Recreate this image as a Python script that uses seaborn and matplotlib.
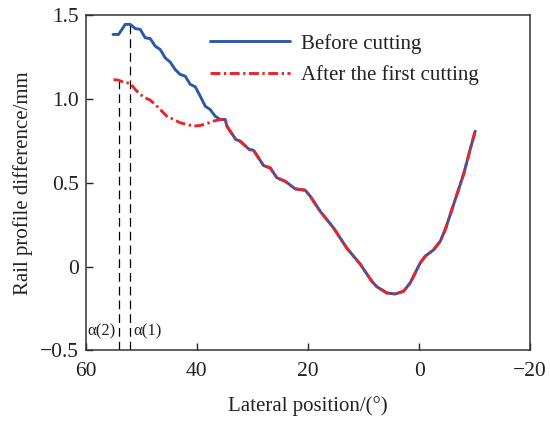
import matplotlib
matplotlib.use('Agg')
import matplotlib.pyplot as plt
import numpy as np
import pandas as pd
import seaborn as sns

# lateral position (deg) and rail profile difference (mm)
before_head_x = [55.1, 54.1, 52.9, 52.0, 51.1, 50.2, 49.3, 48.4, 47.5, 46.6, 45.7,
                 44.8, 43.9, 43.0, 42.1, 41.2, 40.3, 39.4, 38.5, 37.6, 36.7]
before_head_y = [1.385, 1.385, 1.445, 1.445, 1.42, 1.415, 1.365, 1.36, 1.315, 1.295, 1.245,
                 1.22, 1.175, 1.146, 1.136, 1.087, 1.073, 1.017, 0.957, 0.937, 0.897]

after_head_x = [55.0, 54.1, 53.2, 52.0, 51.1, 50.2, 49.3, 48.4, 47.5, 46.6, 45.4,
                44.2, 43.0, 41.8, 40.6, 39.4, 38.2, 37.0]
after_head_y = [1.116, 1.112, 1.10, 1.093, 1.057, 1.027, 1.007, 0.993, 0.967, 0.937, 0.897,
                0.878, 0.858, 0.848, 0.838, 0.842, 0.854, 0.868]

# both profiles coincide from here on
shared_x = [35.8, 34.9, 34.6, 33.0, 32.2, 30.6, 29.8, 28.0, 26.8, 25.6, 24.1, 22.3,
            20.5, 19.6, 17.8, 15.4, 13.0, 10.6, 8.5, 7.6, 5.8, 4.3, 2.8, 1.6, -0.2,
            -1.1, -2.6, -3.8, -4.7, -5.9, -7.1, -8.0, -9.2, -10.1]
shared_y = [0.878, 0.878, 0.838, 0.758, 0.748, 0.70, 0.694, 0.603, 0.589, 0.53, 0.509, 0.464,
            0.456, 0.42, 0.33, 0.231, 0.11, 0.015, -0.088, -0.12, -0.157, -0.163, -0.147, -0.097, 0.022,
            0.062, 0.10, 0.151, 0.22, 0.34, 0.46, 0.55, 0.70, 0.808]

# cutting positions alpha(2), alpha(1) and the curve value they reach
alpha_x = [54.0, 52.1]
alpha_top = [1.11, 1.445]
alpha_labels = ['α(2)', 'α(1)']

x_ticks = [60, 40, 20, 0, -20]
y_ticks = [1.5, 1.0, 0.5, 0, -0.5]
y_tick_labels = ['1.5', '1.0', '0.5', '0', '\u22120.5']
x_tick_labels = ['60', '40', '20', '0', '\u221220']

df_before = pd.DataFrame({'x': before_head_x + shared_x, 'y': before_head_y + shared_y})
df_after = pd.DataFrame({'x': after_head_x + shared_x, 'y': after_head_y + shared_y})

sns.set_style('ticks')
plt.rcParams['font.family'] = ['Liberation Serif', 'DejaVu Serif']

fig = plt.figure(figsize=(5.5, 4.21), dpi=100)
ax = fig.add_axes([0.156, 0.1675, 0.808, 0.7965])

# vertical dashed markers
ax.vlines(alpha_x, -0.5, alpha_top, colors='k', linestyles=(0, (7, 4)), linewidth=0.9)
for xa, lab in zip(alpha_x, alpha_labels):
    off = 0.6 if lab == 'α(2)' else -0.6
    ha = 'right' if lab == 'α(2)' else 'left'
    ax.text(xa + off, -0.385, lab, ha=ha, va='center', fontsize=12, color='#222222')

sns.lineplot(data=df_before, x='x', y='y', sort=False, estimator=None, ax=ax,
             color='#2a5aa8', linewidth=2.1, label='Before cutting')
sns.lineplot(data=df_after, x='x', y='y', sort=False, estimator=None, ax=ax,
             color='#e8252b', linewidth=2.1, label='After the first cutting',
             dashes=False)
ax.lines[-1].set_dashes((3.4, 1.2, 0.8, 1.2))

ax.set_xlim(60, -20)
ax.set_ylim(-0.5, 1.5)
ax.set_xticks(x_ticks)
ax.set_xticklabels(x_tick_labels)
ax.set_yticks(y_ticks)
ax.set_yticklabels(y_tick_labels)
ax.tick_params(direction='in', length=5, width=1, labelsize=15.5, colors='#222222', pad=5)
ax.tick_params(axis='x', pad=8)
ax.set_xlabel('Lateral position/(°)', fontsize=15, color='#222222', labelpad=11)
ax.set_ylabel('Rail profile difference/mm', fontsize=15, color='#222222', labelpad=5)
for s in ax.spines.values():
    s.set_linewidth(1.1)
    s.set_color('#333333')

leg = ax.legend(loc='upper left', bbox_to_anchor=(0.28, 0.945), frameon=False,
                fontsize=15, handlelength=3.85, handletextpad=0.5, labelspacing=0.55,
                borderpad=0, borderaxespad=0)
for t in leg.get_texts():
    t.set_color('#222222')

fig.savefig('out.png', dpi=100)
